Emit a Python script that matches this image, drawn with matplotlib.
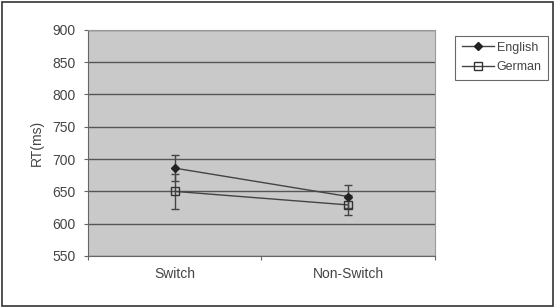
import numpy as np
import matplotlib
matplotlib.use("Agg")
import matplotlib.pyplot as plt
from matplotlib.lines import Line2D

plt.rcParams['font.family'] = ['Liberation Sans', 'DejaVu Sans']

conditions = ["Switch", "Non-Switch"]
english_rt = [686, 642]
english_err = [20, 18]
german_rt = [650, 629]
german_err = [27, 15]

fig = plt.figure(figsize=(5.56, 3.08), dpi=100)
fig.patch.set_facecolor("white")
# outer frame around the whole chart
fig.add_artist(plt.Rectangle((0.004, 0.006), 0.99, 0.987, transform=fig.transFigure,
                             fill=False, edgecolor="#333333", linewidth=1.2))

ax = fig.add_axes([0.158, 0.169, 0.624, 0.734])
ax.set_facecolor("#c9c9c9")

x = np.arange(len(conditions)) + 0.5

eng_style = dict(color="#444444", marker="D", markersize=4, markerfacecolor="#222222",
                 markeredgecolor="#222222", linewidth=1)
ger_style = dict(color="#444444", marker="s", markersize=6, markerfacecolor="none",
                 markeredgecolor="#333333", linewidth=1)

ax.errorbar(x, english_rt, yerr=english_err, capsize=3, elinewidth=1, zorder=3, **eng_style)
ax.errorbar(x, german_rt, yerr=german_err, capsize=3, elinewidth=1, zorder=3, **ger_style)

ax.set_xlim(0, 2)
ax.set_ylim(550, 900)
ax.set_yticks(np.arange(550, 901, 50))
ax.set_xticks([0, 1, 2])
ax.set_xticklabels([])
ax.set_xticks(x, minor=True)
ax.set_xticklabels(conditions, minor=True)
ax.tick_params(axis="x", which="minor", length=0, pad=8, labelsize=10, labelcolor="#444444")
ax.tick_params(axis="x", which="major", length=3, direction="out", color="#666666")
ax.tick_params(axis="y", length=3, direction="out", labelsize=10, color="#666666",
               labelcolor="#444444", pad=6)

ax.yaxis.grid(True, color="#555555", linewidth=1)
ax.set_axisbelow(True)

for side in ["top", "right"]:
    ax.spines[side].set_color("#999999")
for side in ["left", "bottom"]:
    ax.spines[side].set_color("#666666")

ax.set_ylabel("RT(ms)", fontsize=10, color="#444444", labelpad=6)

handles = [Line2D([], [], **eng_style), Line2D([], [], **ger_style)]
leg = fig.legend(handles, ["English", "German"], loc="upper left",
                 bbox_to_anchor=(0.808, 0.905), fontsize=9,
                 frameon=True, fancybox=False, edgecolor="#444444",
                 handlelength=2.6, borderpad=0.5, labelspacing=0.6, handletextpad=0.2)
leg.get_frame().set_linewidth(0.8)
for t in leg.get_texts():
    t.set_color("#444444")

fig.savefig("out.png", dpi=100)
